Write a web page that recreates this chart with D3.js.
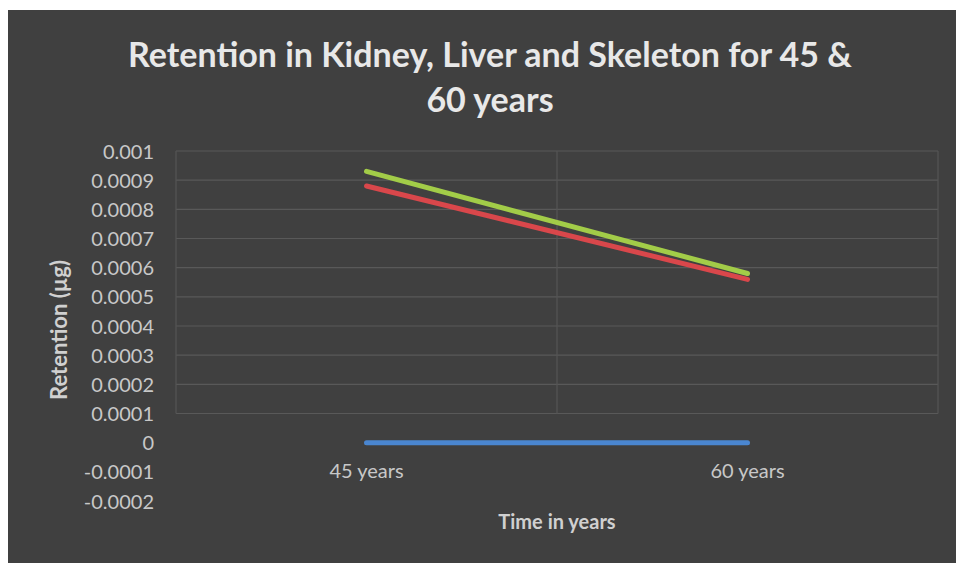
<!DOCTYPE html>
<html>
<head>
<meta charset="utf-8">
<script src="https://cdn.jsdelivr.net/npm/d3@7"></script>
<style>
  html, body { margin: 0; padding: 0; background: #ffffff; }
  svg { display: block; }
</style>
</head>
<body>
<svg id="chart" width="956" height="563"></svg>
<script>
// Retention values (µg) at each age
const categories = ["45 years", "60 years"];
const kidney = [0.0000001, 0.0000001];
const liver = [0.00088, 0.00056];
const skeleton = [0.00093, 0.00058];
const seriesNames = ["Kidney", "Liver", "Skeleton"];
const yTicks = [-0.0002, -0.0001, 0, 0.0001, 0.0002, 0.0003, 0.0004, 0.0005,
                0.0006, 0.0007, 0.0008, 0.0009, 0.001];
const gridTicks = [0.0001, 0.0002, 0.0003, 0.0004, 0.0005, 0.0006, 0.0007,
                   0.0008, 0.0009, 0.001];

const svg = d3.select("#chart");
const W = 956, H = 563;
const FONT = "Lato, 'Open Sans', sans-serif";

// chart panel
svg.append("rect").attr("x", 8).attr("y", 10).attr("width", W - 8).attr("height", H - 10)
  .attr("fill", "#404040");

const plot = { left: 176, right: 938, top: 151, bottom: 501 };

const x = d3.scaleBand().domain(categories).range([plot.left, plot.right]);
const y = d3.scaleLinear().domain([-0.0002, 0.001]).range([plot.bottom, plot.top]);

const g = svg.append("g");

// gridlines
g.append("g").selectAll("line").data(gridTicks).join("line")
  .attr("x1", plot.left).attr("x2", plot.right)
  .attr("y1", d => y(d)).attr("y2", d => y(d))
  .attr("stroke", "#595959").attr("stroke-width", 1.2);

const vEdges = [x(categories[0]), x(categories[1]), x(categories[1]) + x.bandwidth()];
g.append("g").selectAll("line").data(vEdges).join("line")
  .attr("x1", d => d).attr("x2", d => d)
  .attr("y1", y(0.001)).attr("y2", y(0.0001))
  .attr("stroke", "#555555").attr("stroke-width", 1.2);

// y axis labels (plain hyphen for negatives)
const yAxis = d3.axisLeft(y).tickValues(yTicks).tickSize(0).tickPadding(0)
  .tickFormat(d => String(+d.toFixed(4)));
const ya = svg.append("g").attr("transform", `translate(154,0)`).call(yAxis);
ya.select(".domain").remove();
ya.selectAll("text").attr("fill", "#c8c8c8").attr("font-family", FONT)
  .attr("font-size", 20).attr("text-anchor", "end").attr("dy", "0.35em");

// x axis labels
const xAxis = d3.axisBottom(x).tickSize(0).tickPadding(0);
const xa = svg.append("g").attr("transform", `translate(0,464)`).call(xAxis);
xa.select(".domain").remove();
xa.selectAll("text").attr("fill", "#c8c8c8").attr("font-family", FONT)
  .attr("font-size", 20).attr("dy", "0.71em");

// series lines
const series = [
  { name: seriesNames[0], values: kidney, color: "#4a86d0" },
  { name: seriesNames[1], values: liver, color: "#d9474b" },
  { name: seriesNames[2], values: skeleton, color: "#a2cc48" }
];
const line = d3.line()
  .x((d, i) => x(categories[i]) + x.bandwidth() / 2)
  .y(d => y(d));
g.append("g").selectAll("path").data(series).join("path")
  .attr("d", s => line(s.values))
  .attr("fill", "none")
  .attr("stroke", s => s.color)
  .attr("stroke-width", 5)
  .attr("stroke-linecap", "round");

// titles
const title = svg.append("text").attr("text-anchor", "middle")
  .attr("font-family", FONT).attr("font-weight", "bold").attr("font-size", 34)
  .attr("fill", "#e8e8e8");
title.append("tspan").attr("x", 490).attr("y", 67).text("Retention in Kidney, Liver and Skeleton for 45 &");
title.append("tspan").attr("x", 490).attr("y", 112).text("60 years");

svg.append("text").attr("x", 557).attr("y", 529).attr("text-anchor", "middle")
  .attr("font-family", FONT).attr("font-weight", "bold").attr("font-size", 20)
  .attr("fill", "#d0d0d0").text("Time in years");

svg.append("text").attr("transform", "translate(67,330) rotate(-90)")
  .attr("text-anchor", "middle")
  .attr("font-family", FONT).attr("font-weight", "bold").attr("font-size", 22)
  .attr("fill", "#d0d0d0").text("Retention (µg)");
</script>
</body>
</html>
